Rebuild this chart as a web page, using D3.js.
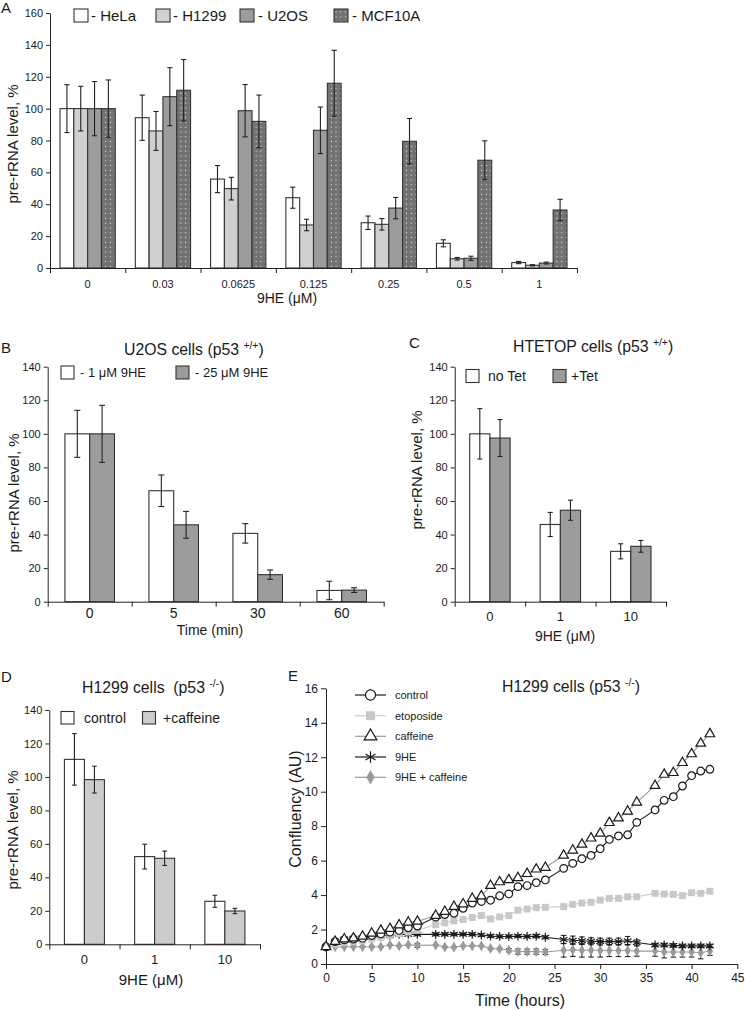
<!DOCTYPE html>
<html><head><meta charset="utf-8">
<script src="https://cdn.jsdelivr.net/npm/d3@7"></script>
<style>
body{margin:0;background:#fff}
svg{display:block}
text{font-family:"Liberation Sans",Arial,sans-serif;fill:#1a1a1a;white-space:pre}
</style>
</head><body>
<svg id="c" width="745" height="1010"></svg>
<script>
// ---------- Panel A ----------
const aCategories = ["0","0.03","0.0625","0.125","0.25","0.5","1"];
const aSeriesNames = ["HeLa","H1299","U2OS","MCF10A"];
const aHeLa      = [100, 94.3, 55.8, 44.1, 28.4, 15.5, 3.4];
const aHeLaErr   = [15, 14.2, 8.5, 6.6, 4.2, 2.2, 0.7];
const aH1299     = [100, 86, 49.8, 27, 27.4, 5.8, 1.7];
const aH1299Err  = [14, 12.2, 7.1, 3.6, 3.6, 0.8, 0.4];
const aU2OS      = [100, 107.5, 98.7, 86.4, 37.6, 6.1, 3.1];
const aU2OSErr   = [17, 18.2, 16.4, 14.6, 6.7, 1.3, 0.6];
const aMCF10A    = [100, 111.5, 92, 115.9, 79.5, 67.6, 36.4];
const aMCF10AErr = [18, 19.3, 16.5, 20.7, 14.3, 12.2, 6.7];
const aYTicks = [0,20,40,60,80,100,120,140,160];

// ---------- Panel B ----------
const bCategories = ["0","5","30","60"];
const bSeriesNames = ["- 1 \u03bcM 9HE","- 25 \u03bcM 9HE"];
const b1uM     = [100, 66.1, 40.7, 6.7];
const b1uMErr  = [14, 9.4, 5.8, 5.5];
const b25uM    = [100, 45.8, 16.1, 6.9];
const b25uMErr = [17, 8, 2.8, 1.4];
const bcdYTicks = [0,20,40,60,80,100,120,140];

// ---------- Panel C ----------
const cCategories = ["0","1","10"];
const cSeriesNames = ["no Tet","+Tet"];
const cNoTet    = [100, 46, 30];
const cNoTetErr = [15, 7.2, 4.5];
const cTet      = [97.5, 54.5, 33];
const cTetErr   = [11, 6, 3.5];

// ---------- Panel D ----------
const dCategories = ["0","1","10"];
const dSeriesNames = ["control","+caffeine"];
const dControl     = [110.5, 52.4, 25.7];
const dControlErr  = [15.4, 7.4, 3.6];
const dCaffeine    = [98.4, 51.4, 19.9];
const dCaffeineErr = [8, 4.3, 1.6];

// ---------- Panel E ----------
const eTimes = [0,1,2,3,4,5,6,7,8,9,10,12,13,14,15,16,17,18,19,20,21,22,23,24,26,27,28,29,30,31,32,33,34,36,37,38,39,40,41,42];
const eControl   = [1.0,1.3,1.4,1.45,1.5,1.65,1.75,1.85,1.95,2.1,2.2, 2.72,2.87,2.94,3.23,3.54,3.63,3.7,3.96,4.07,4.49,4.55,4.72,4.88, 5.55,5.84,6.11,6.3,6.69,7.23,7.43,7.5,8.22, 8.94,9.5,9.71,10.33,10.93,11.2,11.3];
const eEtoposide = [1.0,1.15,1.25,1.3,1.35,1.45,1.55,1.65,1.75,1.85,1.95, 2.29,2.39,2.5,2.58,2.7,2.81,2.62,2.73,2.81,3.12,3.19,3.27,3.29, 3.33,3.46,3.54,3.58,3.71,3.81,3.81,3.9,3.9, 4.1,4.06,4.04,3.97,4.14,4.1,4.22];
const eCaffeine  = [1.0,1.3,1.45,1.5,1.6,1.78,1.95,2.05,2.26,2.42,2.47, 2.81,3.04,3.33,3.48,3.8,3.94,4.55,4.76,4.88,5.0,5.24,5.5,5.6, 6.3,6.6,6.94,7.3,7.58,8.2,8.47,8.86,9.38, 10.35,11.0,11.1,11.68,12.19,12.8,13.35];
const e9HE       = [1.0,1.3,1.45,1.5,1.53,1.57,1.62,1.67,1.72,1.72,1.72, 1.72,1.72,1.72,1.72,1.72,1.68,1.62,1.6,1.6,1.62,1.6,1.62,1.55, 1.42,1.38,1.35,1.32,1.3,1.3,1.3,1.35,1.25, 1.1,1.1,1.08,1.05,1.05,1.05,1.05];
const e9HEErr    = [0.05,0.06,0.08,0.08,0.08,0.08,0.08,0.08,0.08,0.08,0.08, 0.08,0.08,0.08,0.08,0.08,0.08,0.08,0.08,0.08,0.08,0.08,0.1,0.08, 0.24,0.24,0.22,0.2,0.2,0.2,0.2,0.25,0.15, 0.1,0.1,0.1,0.1,0.1,0.1,0.1];
const e9HECaf    = [1.0,1.0,1.0,1.0,1.0,1.0,1.0,1.1,1.05,1.12,1.08, 1.1,0.98,0.97,1.05,1.05,1.05,0.9,0.88,0.8,0.72,0.72,0.72,0.7, 0.8,0.82,0.8,0.8,0.78,0.78,0.78,0.78,0.75, 0.75,0.7,0.7,0.7,0.7,0.65,0.75];
const e9HECafErr = [0.03,0.03,0.03,0.03,0.03,0.03,0.03,0.03,0.03,0.03,0.12, 0.03,0.03,0.03,0.03,0.03,0.03,0.05,0.05,0.1,0.15,0.15,0.15,0.15, 0.4,0.38,0.4,0.4,0.38,0.35,0.35,0.35,0.3, 0.3,0.35,0.3,0.3,0.3,0.35,0.25];
const eSeriesNames = ["control","etoposide","caffeine","9HE","9HE + caffeine"];
const eXTicks = [0,5,10,15,20,25,30,35,40,45];
const eYTicks = [0,2,4,6,8,10,12,14,16];

const svg = d3.select("#c");
const defs = svg.append("defs");
const pat = defs.append("pattern").attr("id","dots").attr("patternUnits","userSpaceOnUse")
  .attr("width",4.7).attr("height",4.8);
pat.append("rect").attr("width",4.7).attr("height",4.8).attr("fill","#727272");
pat.append("rect").attr("x",1.8).attr("y",1.8).attr("width",1.1).attr("height",1.1).attr("fill","#e8e8e8");

const INK = "#222";

function styleAxis(sel, fs){
  sel.selectAll("path,line").attr("stroke",INK).attr("stroke-width",1);
  sel.selectAll("text").attr("fill","#1a1a1a").attr("font-size",fs).attr("font-family",'"Liberation Sans",Arial,sans-serif');
}

function barPanel(o){
  const g = svg.append("g");
  const x = d3.scaleBand().domain(o.cats).range([o.x0,o.x1]).paddingInner(o.pad).paddingOuter(o.pad/2);
  const xs = d3.scaleBand().domain(d3.range(o.series.length)).range([0,x.bandwidth()]);
  const y = d3.scaleLinear().domain([0,o.yMax]).range([o.yBase,o.yTopPx]);
  o.series.forEach((s,i)=>{
    const rows = o.cats.map((c,j)=>({c, v:s.values[j], e:s.errs[j]}));
    g.append("g").selectAll("rect").data(rows).join("rect")
      .attr("x",d=>x(d.c)+xs(i)).attr("width",xs.bandwidth())
      .attr("y",d=>y(d.v)).attr("height",d=>y(0)-y(d.v))
      .attr("fill",s.fill).attr("stroke","#333").attr("stroke-width",1.1);
    const eg = g.append("g").attr("stroke",INK).attr("stroke-width",1.1);
    rows.forEach(d=>{
      const cx = x(d.c)+xs(i)+xs.bandwidth()/2;
      const hi = y(d.v+d.e), lo = y(Math.max(0,d.v-d.e));
      eg.append("line").attr("x1",cx).attr("x2",cx).attr("y1",hi).attr("y2",lo);
      eg.append("line").attr("x1",cx-o.cap).attr("x2",cx+o.cap).attr("y1",hi).attr("y2",hi);
      eg.append("line").attr("x1",cx-o.cap).attr("x2",cx+o.cap).attr("y1",lo).attr("y2",lo);
    });
  });
  const ya = g.append("g").attr("transform",`translate(${o.x0},0)`)
    .call(d3.axisLeft(y).tickValues(o.yTicks).tickSize(4).tickSizeOuter(0).tickPadding(3));
  styleAxis(ya, o.yFs);
  const bx = d3.scaleLinear().domain([0,o.cats.length]).range([o.x0,o.x1]);
  const xa = g.append("g").attr("transform",`translate(0,${o.yBase})`)
    .call(d3.axisBottom(bx).tickValues(d3.range(o.cats.length+1)).tickFormat("").tickSize(5).tickSizeOuter(0));
  styleAxis(xa, o.xFs);
  const xl = g.append("g").attr("transform",`translate(0,${o.yBase})`)
    .call(d3.axisBottom(x).tickSize(0).tickPadding(o.labelPad));
  xl.select(".domain").remove();
  styleAxis(xl, o.xFs);
  return {x,y};
}

function rotLabel(txt, cx, cy, fs){
  svg.append("text").attr("transform",`translate(${cx},${cy}) rotate(-90)`)
    .attr("text-anchor","middle").attr("dy","0.35em").attr("font-size",fs).text(txt);
}
function label(txt, x, y, fs, anchor){
  return svg.append("text").attr("x",x).attr("y",y).attr("font-size",fs)
    .attr("text-anchor",anchor||"start").text(txt);
}
function titleSup(main, sup, x, y, fs){
  const t = svg.append("text").attr("x",x).attr("y",y).attr("font-size",fs);
  t.append("tspan").text(main);
  t.append("tspan").attr("dy",-6).attr("font-size",fs*0.66).text(sup);
  t.append("tspan").attr("dy",6).text(")");
}
function legendBox(x, y, w, h, fill, txt, tx, fs){
  svg.append("rect").attr("x",x).attr("y",y).attr("width",w).attr("height",h)
    .attr("fill",fill).attr("stroke","#333").attr("stroke-width",1.1);
  label(txt, tx, y+h/2, fs).attr("dy","0.36em");
}

// ===== Panel A =====
const aFills = ["#ffffff","#d0d0d0","#9c9c9c","url(#dots)"];
barPanel({cats:aCategories, x0:50, x1:577, yBase:268, yTopPx:13, yMax:160, pad:0.266,
  yTicks:aYTicks, cap:2.6, yFs:11, xFs:11, labelPad:12,
  series:[{values:aHeLa,errs:aHeLaErr,fill:aFills[0]},{values:aH1299,errs:aH1299Err,fill:aFills[1]},
          {values:aU2OS,errs:aU2OSErr,fill:aFills[2]},{values:aMCF10A,errs:aMCF10AErr,fill:aFills[3]}]});
label("A",1,13,15);
rotLabel("pre-rRNA level, %",13,144,15);
label("9HE (\u03bcM)",287,298,14,"middle").attr("dy","0.35em");
[[74,91],[156,173],[240,258],[334,352]].forEach((p,i)=>{
  legendBox(p[0],9,14,13,aFills[i],"- "+aSeriesNames[i],p[1],15);
});

// ===== Panel B =====
const bFills = ["#ffffff","#9c9c9c"];
barPanel({cats:bCategories, x0:47.7, x1:383.7, yBase:601.7, yTopPx:366.7, yMax:140, pad:0.41,
  yTicks:bcdYTicks, cap:3, yFs:11, xFs:14, labelPad:6,
  series:[{values:b1uM,errs:b1uMErr,fill:bFills[0]},{values:b25uM,errs:b25uMErr,fill:bFills[1]}]});
label("B",1,353,15);
titleSup("U2OS cells (p53 ","+/+",124,355,15.8);
rotLabel("pre-rRNA level, %",14,493,15);
label("Time (min)",210,630,14,"middle").attr("dy","0.35em");
legendBox(61,366,13,13,bFills[0],bSeriesNames[0],80,13);
legendBox(176,366,13,13,bFills[1],bSeriesNames[1],195,13);

// ===== Panel C =====
const cFills = ["#ffffff","#9c9c9c"];
barPanel({cats:cCategories, x0:454.7, x1:666, yBase:601.7, yTopPx:366.7, yMax:140, pad:0.426,
  yTicks:bcdYTicks, cap:2.5, yFs:11, xFs:13, labelPad:10,
  series:[{values:cNoTet,errs:cNoTetErr,fill:cFills[0]},{values:cTet,errs:cTetErr,fill:cFills[1]}]});
label("C",409,348,15);
titleSup("HTETOP cells (p53 ","+/+",513,352,15.8);
rotLabel("pre-rRNA level, %",417,470,15);
label("9HE (\u03bcM)",565,636,14,"middle").attr("dy","0.35em");
legendBox(466,369.5,13,13,cFills[0],cSeriesNames[0],488,14);
legendBox(553,369.5,13,13,cFills[1],cSeriesNames[1],571,14);

// ===== Panel D =====
const dFills = ["#ffffff","#cccccc"];
barPanel({cats:dCategories, x0:49.3, x1:260, yBase:944.3, yTopPx:710, yMax:140, pad:0.43,
  yTicks:bcdYTicks, cap:2.3, yFs:11, xFs:13, labelPad:10,
  series:[{values:dControl,errs:dControlErr,fill:dFills[0]},{values:dCaffeine,errs:dCaffeineErr,fill:dFills[1]}]});
label("D",1,682,15);
titleSup("H1299 cells  (p53 ","-/-",82,693,15.8);
rotLabel("pre-rRNA level, %",13,830,15);
label("9HE (\u03bcM)",151,980,15,"middle").attr("dy","0.35em");
legendBox(61,711.5,13,12.5,dFills[0],dSeriesNames[0],84,14);
legendBox(142.5,711.5,13,12.5,dFills[1],dSeriesNames[1],163,14);

// ===== Panel E =====
const ex = d3.scaleLinear().domain([0,45]).range([326,737.3]);
const ey = d3.scaleLinear().domain([0,16]).range([964,688.3]);
const eg = svg.append("g");
const exa = eg.append("g").attr("transform","translate(0,964)")
  .call(d3.axisBottom(ex).tickValues(eXTicks).tickSize(5).tickSizeOuter(0).tickPadding(4));
styleAxis(exa,12);
const eya = eg.append("g").attr("transform","translate(326,0)")
  .call(d3.axisLeft(ey).tickValues(eYTicks).tickSize(5).tickSizeOuter(0).tickPadding(3));
styleAxis(eya,12);

const eSeries = [
  {name:eSeriesNames[0], vals:eControl,   line:"#1a1a1a", sym:d3.symbolCircle,   size:46, fill:"#fff", stroke:"#1a1a1a", lsize:80},
  {name:eSeriesNames[1], vals:eEtoposide, line:"#cdcdcd", sym:d3.symbolSquare,   size:48, fill:"#c8c8c8", stroke:"none", lsize:80},
  {name:eSeriesNames[2], vals:eCaffeine,  line:"#9a9a9a", sym:d3.symbolTriangle, size:40, fill:"#fff", stroke:"#1a1a1a", lsize:70},
  {name:eSeriesNames[3], vals:e9HE,       line:"#1a1a1a", sym:d3.symbolAsterisk, size:55, fill:"none", stroke:"#1a1a1a", lsize:95, err:e9HEErr},
  {name:eSeriesNames[4], vals:e9HECaf,    line:"#9a9a9a", sym:d3.symbolDiamond,  size:34, fill:"#9a9a9a", stroke:"none", lsize:60, err:e9HECafErr}
];
const lineGen = d3.line().x(d=>ex(d.t)).y(d=>ey(d.v));
const drawOrder = [4,3,1,0,2];
drawOrder.forEach(k=>{
  const s = eSeries[k];
  const pts = eTimes.map((t,i)=>({t, v:s.vals[i], e:s.err?s.err[i]:0}));
  const sg = eg.append("g");
  if(s.err){
    const er = sg.append("g").attr("stroke","#1a1a1a").attr("stroke-width",1);
    pts.forEach(d=>{
      const cx=ex(d.t), hi=ey(d.v+d.e), lo=ey(d.v-d.e);
      er.append("line").attr("x1",cx).attr("x2",cx).attr("y1",hi).attr("y2",lo);
      er.append("line").attr("x1",cx-2.8).attr("x2",cx+2.8).attr("y1",hi).attr("y2",hi);
      er.append("line").attr("x1",cx-2.8).attr("x2",cx+2.8).attr("y1",lo).attr("y2",lo);
    });
  }
  sg.append("path").datum(pts).attr("d",lineGen).attr("fill","none").attr("stroke",s.line).attr("stroke-width",1.1);
  sg.selectAll(".m").data(pts).join("path")
    .attr("transform",d=>`translate(${ex(d.t)},${ey(d.v)})`)
    .attr("d",d3.symbol(s.sym,s.size))
    .attr("fill",s.fill).attr("stroke",s.stroke).attr("stroke-width",1.2);
});
const eLegY = [695,715.7,736.3,757,777.3];
eSeries.forEach((s,i)=>{
  const y0 = eLegY[i];
  svg.append("line").attr("x1",355).attr("x2",386).attr("y1",y0).attr("y2",y0)
    .attr("stroke",s.line).attr("stroke-width",1.2);
  svg.append("path").attr("transform",`translate(370.5,${y0})`).attr("d",d3.symbol(s.sym,s.lsize))
    .attr("fill",s.fill).attr("stroke",s.stroke).attr("stroke-width",1.2);
  label(s.name,395,y0,11).attr("dy","0.36em");
});
label("E",288,681,15);
titleSup("H1299 cells (p53 ","-/-",502,692,15.8);
rotLabel("Confluency (AU)",295,809,16);
label("Time (hours)",520,1000,16,"middle").attr("dy","0.35em");
</script>
</body></html>
